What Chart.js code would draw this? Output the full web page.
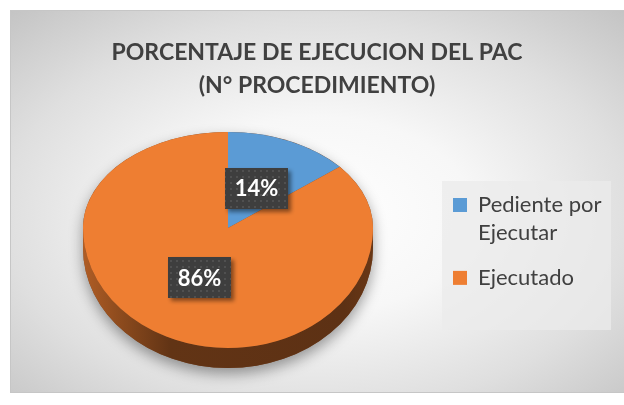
<!DOCTYPE html>
<html><head><meta charset="utf-8">
<script src="https://cdn.jsdelivr.net/npm/chart.js@4.4.1/dist/chart.umd.min.js"></script>
<style>html,body{margin:0;padding:0;background:#fff;}canvas{display:block}</style>
</head><body>
<canvas id="c" width="624" height="405"></canvas>
<script>
const categories = [['Pediente por', 'Ejecutar'], ['Ejecutado']];
const values = [14, 86];
const valueLabels = ['14%', '86%'];
const sliceColors = ['#5B9BD5', '#EE7E32'];
const titleLines = ['PORCENTAJE DE EJECUCION DEL PAC', '(N° PROCEDIMIENTO)'];

const KTOP = 96 / 145, KBOT = 120 / 145, DEPTH = 20;

function shade(hex, f) {
  const n = parseInt(hex.slice(1), 16);
  const r = Math.round(((n >> 16) & 255) * f), g = Math.round(((n >> 8) & 255) * f), b = Math.round((n & 255) * f);
  return 'rgb(' + r + ',' + g + ',' + b + ')';
}
function visibleRanges(s, e) {
  const out = [];
  for (let k = -1; k <= 2; k++) {
    const a = Math.max(s, k * 2 * Math.PI), b = Math.min(e, k * 2 * Math.PI + Math.PI);
    if (a < b) out.push([a, b]);
  }
  return out;
}
const pat = document.createElement('canvas');
pat.width = 6; pat.height = 6;
(function () {
  const p = pat.getContext('2d');
  p.fillStyle = '#3e3e3e'; p.fillRect(0, 0, 6, 6);
  p.fillStyle = '#505050'; p.fillRect(2, 2, 2, 2);
})();

const pie3d = {
  id: 'pie3d',
  afterLayout(chart) {
    chart.chartArea = {left: 83, top: 83, right: 373, bottom: 373, width: 290, height: 290};
    const lg = chart.legend;
    lg.left = 436; lg.right = 624; lg.top = 177; lg.bottom = 392;
    lg.width = lg.right - lg.left; lg.height = lg.bottom - lg.top;
  },
  beforeDraw(chart) {
    const ctx = chart.ctx;
    ctx.save();
    ctx.fillStyle = '#ffffff';
    ctx.fillRect(0, 0, chart.width, chart.height);
    ctx.beginPath(); ctx.rect(11, 11, 613, 381); ctx.clip();
    ctx.translate(317, 215); ctx.scale(1.6, 1);
    const g = ctx.createRadialGradient(0, 0, 0, 0, 0, 280);
    g.addColorStop(0, '#ffffff');
    g.addColorStop(0.35, '#f7f7f7');
    g.addColorStop(0.7, '#dfdfdf');
    g.addColorStop(1, '#c4c4c4');
    ctx.fillStyle = g;
    ctx.fillRect(-300, -300, 600, 600);
    ctx.restore();
    ctx.save();
    ctx.strokeStyle = '#c6c6c6'; ctx.lineWidth = 1;
    ctx.strokeRect(10.5, 10.5, 620, 382);
    ctx.fillStyle = 'rgba(235,235,235,0.75)';
    ctx.fillRect(442, 181, 169, 149);
    ctx.restore();
  },
  beforeDatasetsDraw(chart) {
    const ctx = chart.ctx;
    const meta = chart.getDatasetMeta(0);
    const a0 = meta.data[0];
    const cx = a0.x, cy = a0.y, R = a0.outerRadius;
    const ryT = R * KTOP, ryB = R * KBOT;
    ctx.save();
    ctx.shadowColor = 'rgba(0,0,0,0.38)'; ctx.shadowBlur = 14; ctx.shadowOffsetY = 6;
    ctx.beginPath();
    ctx.ellipse(cx, cy, R, ryT, 0, Math.PI, 2 * Math.PI);
    ctx.ellipse(cx, cy + DEPTH, R, ryB, 0, 0, Math.PI);
    ctx.closePath();
    ctx.fillStyle = '#7a4a2a';
    ctx.fill();
    ctx.restore();
    ctx.save();
    meta.data.forEach((arc) => {
      const base = arc.options.backgroundColor;
      visibleRanges(arc.startAngle, arc.endAngle).forEach(([s, e]) => {
        const g = ctx.createLinearGradient(cx - R, 0, cx + R, 0);
        g.addColorStop(0, shade(base, 0.74));
        g.addColorStop(0.12, shade(base, 0.6));
        g.addColorStop(0.3, shade(base, 0.41));
        g.addColorStop(0.9, shade(base, 0.39));
        g.addColorStop(1, shade(base, 0.44));
        ctx.fillStyle = g;
        ctx.beginPath();
        ctx.ellipse(cx, cy, R, ryB, 0, s, e);
        ctx.ellipse(cx, cy + DEPTH, R, ryB, 0, e, s, true);
        ctx.closePath();
        ctx.fill();
      });
    });
    ctx.restore();
    ctx.save();
    ctx.beginPath(); ctx.rect(0, 0, chart.width, cy); ctx.clip();
    ctx.translate(cx, cy); ctx.scale(1, KTOP); ctx.translate(-cx, -cy);
  },
  afterDatasetsDraw(chart) {
    const ctx = chart.ctx;
    ctx.restore();
    const meta = chart.getDatasetMeta(0);
    const a0 = meta.data[0];
    const cx = a0.x, cy = a0.y, R = a0.outerRadius;
    ctx.save();
    ctx.beginPath(); ctx.rect(0, cy, chart.width, chart.height - cy); ctx.clip();
    ctx.translate(cx, cy); ctx.scale(1, KBOT); ctx.translate(-cx, -cy);
    meta.controller.draw();
    ctx.restore();
    meta.data.forEach((arc, i) => {
      const mid = (arc.startAngle + arc.endAngle) / 2;
      const r = R * 0.46;
      const s = Math.sin(mid);
      const x = cx + r * Math.cos(mid);
      const y = cy + r * s * (s < 0 ? KTOP : KBOT);
      const w = 63, h = 41;
      ctx.save();
      ctx.shadowColor = 'rgba(0,0,0,0.45)'; ctx.shadowBlur = 4; ctx.shadowOffsetX = 3; ctx.shadowOffsetY = 3;
      ctx.fillStyle = ctx.createPattern(pat, 'repeat');
      ctx.fillRect(Math.round(x - w / 2), Math.round(y - h / 2), w, h);
      ctx.restore();
      ctx.save();
      ctx.fillStyle = '#ffffff';
      ctx.font = 'bold 22px Lato';
      ctx.textAlign = 'center'; ctx.textBaseline = 'middle';
      ctx.fillText(valueLabels[i], x, y + 1);
      ctx.restore();
    });
  }
};

new Chart(document.getElementById('c'), {
  type: 'pie',
  data: {
    labels: categories,
    datasets: [{
      data: values,
      backgroundColor: sliceColors,
      borderWidth: 0,
      hoverOffset: 0,
      clip: false
    }]
  },
  options: {
    responsive: false,
    animation: false,
    events: [],
    layout: {padding: {left: 10}},
    plugins: {
      tooltip: {enabled: false},
      title: {
        display: true,
        text: titleLines,
        color: '#404040',
        font: {family: 'Lato', size: 23, weight: 'bold', lineHeight: 1.43},
        padding: {top: 36, bottom: 10}
      },
      legend: {
        display: true,
        position: 'right',
        align: 'start',
        labels: {
          boxWidth: 14, boxHeight: 14, padding: 17,
          color: '#404040',
          font: {family: 'Lato', size: 22, lineHeight: 1.27}
        }
      }
    }
  },
  plugins: [pie3d]
});
</script>
</body></html>
